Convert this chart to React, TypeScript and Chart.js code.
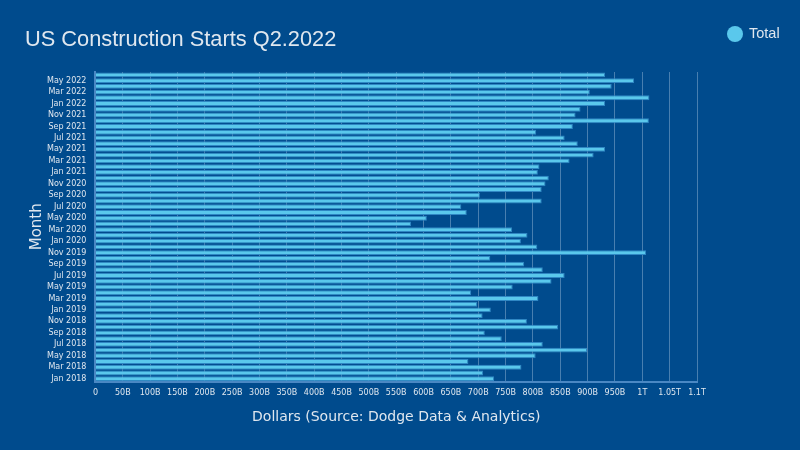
import React, { useEffect, useRef } from "react";
import { Chart, registerables } from "chart.js";

Chart.register(...registerables);

const months: string[] = [
  "Jan 2018", "Feb 2018", "Mar 2018", "Apr 2018", "May 2018", "Jun 2018",
  "Jul 2018", "Aug 2018", "Sep 2018", "Oct 2018", "Nov 2018", "Dec 2018",
  "Jan 2019", "Feb 2019", "Mar 2019", "Apr 2019", "May 2019", "Jun 2019",
  "Jul 2019", "Aug 2019", "Sep 2019", "Oct 2019", "Nov 2019", "Dec 2019",
  "Jan 2020", "Feb 2020", "Mar 2020", "Apr 2020", "May 2020", "Jun 2020",
  "Jul 2020", "Aug 2020", "Sep 2020", "Oct 2020", "Nov 2020", "Dec 2020",
  "Jan 2021", "Feb 2021", "Mar 2021", "Apr 2021", "May 2021", "Jun 2021",
  "Jul 2021", "Aug 2021", "Sep 2021", "Oct 2021", "Nov 2021", "Dec 2021",
  "Jan 2022", "Feb 2022", "Mar 2022", "Apr 2022", "May 2022", "Jun 2022",
];

// Total construction starts, billions of dollars
const totalBillions: number[] = [
  729, 709, 779, 682, 805, 899,
  818, 743, 712, 846, 789, 708,
  723, 698, 810, 687, 763, 834,
  858, 818, 784, 722, 1007, 808,
  778, 790, 762, 577, 606, 679,
  669, 816, 703, 816, 823, 829,
  809, 812, 867, 911, 932, 882,
  858, 806, 873, 1012, 878, 887,
  932, 1013, 904, 944, 985, 932,
];

const titleText = "US Construction Starts Q2.2022";
const seriesName = "Total";
const xAxisTitle = "Dollars (Source: Dodge Data & Analytics)";
const yAxisTitle = "Month";

const BG = "#004b8d";
const TEXT = "#dfe7ef";
const BAR = "#5ac8ec";
const BAR_BORDER = "#2f87c4";
const SANS = "'Liberation Sans', Arial, sans-serif";
const DEJAVU = "'DejaVu Sans', sans-serif";

function formatDollars(v: number): string {
  if (v === 0) return "0";
  if (v >= 1000) return `${+(v / 1000).toFixed(2)}T`;
  return `${v}B`;
}

export default function App() {
  const ref = useRef<HTMLCanvasElement | null>(null);

  useEffect(() => {
    if (!ref.current) return;
    const headerPlugin = {
      id: "header",
      afterDraw(chart: any) {
        const ctx = chart.ctx;
        ctx.save();
        ctx.fillStyle = TEXT;
        ctx.font = `21.8px ${SANS}`;
        ctx.textBaseline = "middle";
        ctx.textAlign = "left";
        ctx.fillText(titleText, 25, 40);
        // legend
        const ds = chart.data.datasets[0];
        ctx.beginPath();
        ctx.arc(735, 34, 8, 0, Math.PI * 2);
        ctx.fillStyle = ds.backgroundColor;
        ctx.fill();
        ctx.fillStyle = TEXT;
        ctx.font = `14.5px ${SANS}`;
        ctx.fillText(ds.label, 749, 34);
        ctx.restore();
      },
    };
    const chart = new Chart(ref.current, {
      type: "bar",
      data: {
        labels: months,
        datasets: [
          {
            label: seriesName,
            data: totalBillions,
            backgroundColor: BAR,
            borderColor: BAR_BORDER,
            borderWidth: 1,
            categoryPercentage: 1,
            barPercentage: 0.85,
          },
        ],
      },
      options: {
        indexAxis: "y",
        animation: false,
        responsive: false,
        maintainAspectRatio: false,
        layout: { padding: { top: 72, right: 103, left: 28, bottom: 24 } },
        plugins: {
          title: { display: false },
          tooltip: { enabled: false },
          legend: { display: false },
        },
        scales: {
          x: {
            min: 0,
            max: 1100,
            ticks: {
              stepSize: 50,
              color: TEXT,
              autoSkip: false,
              maxRotation: 0,
              padding: 7,
              font: { size: 8, family: DEJAVU },
              callback: (v: any) => formatDollars(Number(v)),
            },
            grid: { color: "rgba(160,190,220,0.45)", drawTicks: false },
            border: { color: "#4a88c4", width: 2 },
            title: {
              display: true,
              text: xAxisTitle,
              color: TEXT,
              padding: { top: 4, bottom: 0 },
              font: { size: 14, family: DEJAVU },
            },
          },
          y: {
            reverse: true,
            ticks: {
              color: TEXT,
              autoSkip: false,
              padding: 1,
              font: { size: 8, family: DEJAVU },
              callback: function (this: any, v: any, i: number) {
                return i % 2 === 0 ? months[i] : "";
              },
            },
            grid: { display: false },
            border: { color: "#4a88c4", width: 2 },
            title: {
              display: true,
              text: yAxisTitle,
              color: TEXT,
              padding: { top: 0, bottom: 0 },
              font: { size: 15, family: DEJAVU },
            },
          },
        },
      },
      plugins: [headerPlugin],
    } as any);
    return () => chart.destroy();
  }, []);

  return (
    <div style={{ position: "fixed", left: 0, top: 0, width: 800, height: 450, background: BG }}>
      <canvas ref={ref} width={800} height={450} style={{ width: 800, height: 450, display: "block" }} />
    </div>
  );
}
